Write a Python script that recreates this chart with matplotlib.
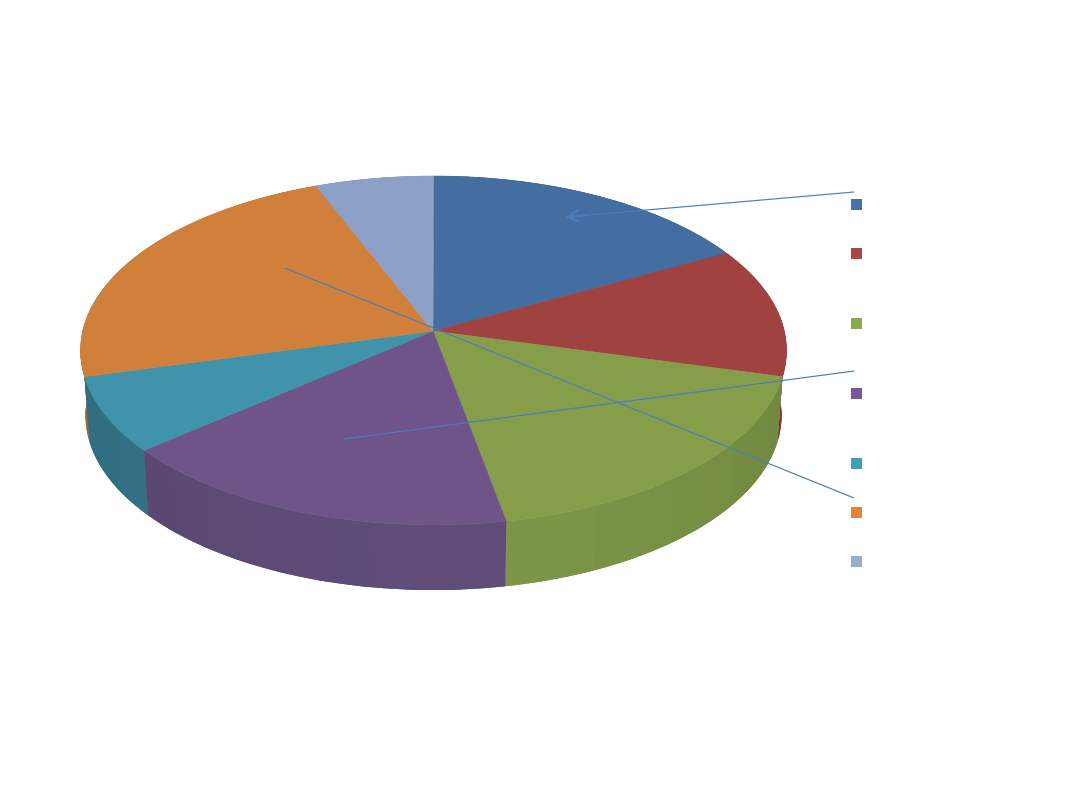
import numpy as np
import matplotlib
matplotlib.use("Agg")
import matplotlib.pyplot as plt
from matplotlib.patches import Polygon, Rectangle

# Slice shares (percent, clockwise from 12 o'clock)
values = [15.6, 11.8, 19.3, 18.6, 7.3, 22.0, 5.4]
top_colors = ['#446DA1', '#A04340', '#869E4A', '#6E5489', '#4093AB', '#D0803A', '#8DA1C8']
side_colors = ['#3A5D8A', '#8A3A37', '#7D9647', '#5F4C79', '#37788E', '#B06C30', '#7889AA']
legend_colors = ['#4672A8', '#AA4644', '#8AA84E', '#745A96', '#429EB8', '#E0843E', '#98ACD2']
legend_y = [205, 254, 324, 394, 464, 513, 562]
leaders = [((854, 192), (566, 217)), ((854, 371), (344, 439)), ((854, 498), (285, 268))]

LINE = '#4A7EBB'
CX, CY, RX, RY = 433.5, 350.5, 353.0, 174.5
APEX_Y = 331.0
BX, BY = 348.0, 415.5

fig = plt.figure(figsize=(10.8, 8.1), dpi=100, facecolor='white')
ax = fig.add_axes([0, 0, 1, 1])
ax.set_xlim(0, 1080)
ax.set_ylim(810, 0)
ax.axis('off')


def top_pt(t):
    return CX + RX * np.sin(t), CY - RY * np.cos(t)


def bot_pt(t):
    return CX + BX * np.sin(t), BY - RY * np.cos(t)


def shade(hex_col, t):
    rgb = np.array(matplotlib.colors.to_rgb(hex_col))
    # sides get a little darker toward the rim's edges
    return tuple(np.clip(rgb * (1.0 - 0.09 * abs(np.sin(t)) ** 2), 0, 1))


def wall(t0, t1):
    tt = np.linspace(t0, t1, 40)
    up = np.array([top_pt(t) for t in tt])
    lo = np.array([bot_pt(t) for t in tt[::-1]])
    return np.vstack([up, lo])


edges = np.radians(np.concatenate([[0], np.cumsum(values)]) * 3.6)

# Side walls: one smooth base per slice, with overlapping bands clipped to it
order = sorted(range(len(values)), key=lambda i: -np.cos(0.5 * (edges[i] + edges[i + 1])))
for i in order:
    a, b = edges[i], edges[i + 1]
    base = Polygon(wall(a, b), closed=True, facecolor=shade(side_colors[i], 0.5 * (a + b)),
                   edgecolor='none', zorder=2)
    ax.add_patch(base)
    n = max(int(np.degrees(b - a) / 7), 1)
    ts = np.linspace(a, b, n + 1)
    for j in range(n):
        mid = 0.5 * (ts[j] + ts[j + 1])
        band = Polygon(wall(ts[j], min(ts[j + 1] + 0.03, b)), closed=True,
                       facecolor=shade(side_colors[i], mid), edgecolor='none',
                       antialiased=False, zorder=2)
        ax.add_patch(band)
        band.set_clip_path(base)

# Top face
for i in range(len(values)):
    tt = np.linspace(edges[i], edges[i + 1], 80)
    rim = np.array([top_pt(t) for t in tt])
    pts = np.vstack([[CX - 0.5, APEX_Y], rim])
    ax.add_patch(Polygon(pts, closed=True, facecolor=top_colors[i], edgecolor=top_colors[i],
                         linewidth=0.4, zorder=3))

# Legend keys (no text in the reference)
for y, c in zip(legend_y, legend_colors):
    ax.add_patch(Rectangle((851, y - 6), 11, 11, facecolor=c, edgecolor='none', zorder=4))

# Leader lines
for k, (p0, p1) in enumerate(leaders):
    ax.plot([p0[0], p1[0]], [p0[1], p1[1]], color=LINE, lw=0.85, zorder=5,
            solid_capstyle='butt')
# Open arrow head on the first leader
p0, p1 = leaders[0]
ax.annotate('', xy=p1, xytext=(p1[0] + 20, p1[1] - 1.75), zorder=5,
            arrowprops=dict(arrowstyle='->,head_length=0.75,head_width=0.42', color=LINE,
                            lw=1.6, shrinkA=0, shrinkB=0))

fig.savefig('out.png', dpi=100, facecolor='white')
